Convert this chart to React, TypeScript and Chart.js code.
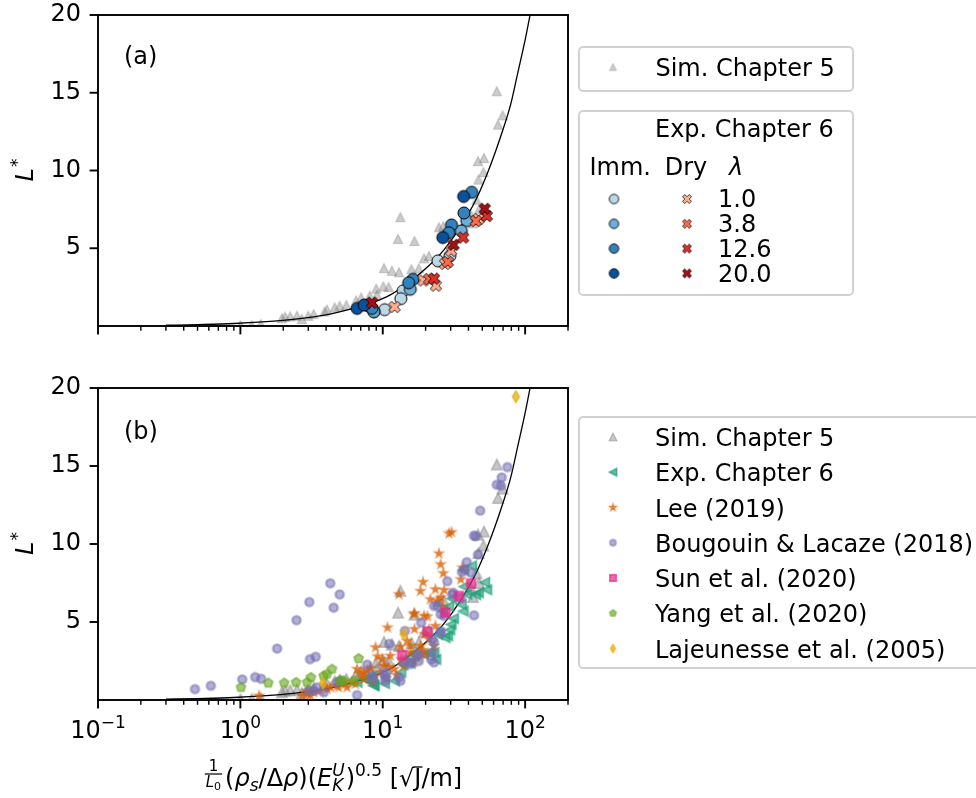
import React, { useEffect, useRef } from 'react';
import { Chart, registerables } from 'chart.js';

Chart.register(...registerables);

const FONT = "'DejaVu Sans', 'Liberation Sans', sans-serif";

// ---------- axis ticks ----------
const xMajorTicks = [0.1, 1, 10, 100];
const xTickExponents = ['\u22121', '0', '1', '2'];
const xMinorTicks = [0.2, 0.3, 0.4, 0.5, 0.6, 0.7, 0.8, 0.9, 2, 3, 4, 5, 6, 7, 8, 9, 20, 30, 40, 50, 60, 70, 80, 90, 200];
const yTicks = [5, 10, 15, 20];

// ---------- data: [x, L*] ----------
type P = [number, number];

const simChapter5: P[] = [
  [63.2, 15.1], [69.5, 13.55], [64.5, 12.95], [51.4, 10.8], [46.7, 10.6], [50.9, 9.9], [47.0, 9.42],
  [45.5, 8.12], [47.4, 7.5], [42.0, 7.1], [43.0, 6.6], [13.3, 7.0], [12.8, 5.6], [16.7, 5.47],
  [24.8, 6.35], [26.6, 6.42], [19.5, 4.35], [21.1, 4.5], [10.2, 3.72], [11.6, 3.55], [13.0, 3.46],
  [15.9, 3.65], [17.9, 3.7], [9.0, 2.4], [10.1, 2.55], [11.0, 2.5], [8.1, 1.95], [9.1, 2.0],
  [7.05, 1.84], [6.5, 1.64], [5.55, 1.35], [4.98, 1.3], [4.6, 1.2], [4.06, 1.05], [3.9, 0.93],
  [3.27, 0.77], [3.0, 0.66], [2.5, 0.66], [2.24, 0.62], [2.06, 0.6], [2.7, 0.45], [1.96, 0.5],
  [1.39, 0.13], [1.2, 0.06], [1.0, 0.05],
];

// Exp. Chapter 6 — immersed (circles), per lambda
const imm_1_0: P[] = [[24.4, 4.19], [29.6, 4.5], [13.9, 2.26], [13.4, 1.76], [10.3, 1.05], [8.7, 0.93]];
const imm_3_8: P[] = [[38.9, 6.78], [35.6, 6.12], [15.6, 2.36], [8.65, 0.92]];
const imm_12_6: P[] = [[42.1, 8.6], [37.2, 7.27], [30.4, 6.5], [29.1, 6.0], [16.3, 3.0], [15.2, 2.78], [7.9, 1.3], [8.4, 1.13]];
const imm_20_0: P[] = [[37.0, 8.33], [26.4, 5.69], [6.6, 1.13], [7.4, 1.35]];
// Exp. Chapter 6 — dry (crosses), per lambda
const dry_1_0: P[] = [[47.0, 6.88], [30.2, 4.84], [27.4, 4.0], [19.3, 2.93], [23.6, 2.6], [12.1, 1.22]];
const dry_3_8: P[] = [[28.6, 4.12], [21.2, 3.02], [45.0, 6.75]];
const dry_12_6: P[] = [[53.8, 7.07], [36.7, 5.69], [22.9, 3.05]];
const dry_20_0: P[] = [[52.0, 7.54], [31.4, 5.22], [8.4, 1.5]];

const lee2019: P[] = [
  [29.2, 10.67], [30.4, 10.75], [24.8, 9.39], [25.5, 8.69], [26.6, 8.12], [36.3, 8.48], [35.3, 7.73],
  [19.2, 7.56], [18.4, 6.98], [23.4, 7.09], [27.0, 7.05], [21.6, 6.45], [25.7, 6.56], [24.1, 6.35], [26.2, 5.96],
  [13.0, 6.77], [16.7, 5.56], [19.5, 5.39], [16.5, 5.5], [20.6, 5.35],
  [16.7, 4.54], [23.4, 4.75], [19.7, 4.22], [10.8, 4.64], [21.1, 3.9],
  [14.8, 3.79], [15.7, 3.47], [18.4, 3.47], [13.3, 3.41], [8.9, 3.37], [22.9, 3.47],
  [9.2, 2.79], [9.9, 2.62], [11.3, 2.83], [15.7, 3.05], [18.4, 3.05],
  [10.2, 2.19], [12.0, 1.98], [14.0, 2.19], [16.5, 2.41], [9.6, 1.77],
  [6.6, 1.98], [6.97, 1.66], [7.8, 1.9], [8.2, 2.05], [7.36, 1.77],
  [7.36, 1.34], [6.08, 1.13], [5.45, 1.02], [6.42, 1.02], [8.5, 1.2], [10.5, 1.4], [12.5, 1.6],
  [4.77, 0.91], [4.28, 0.81], [4.06, 0.7], [3.64, 0.59], [3.27, 0.49], [2.94, 0.38], [2.71, 0.27],
  [4.89, 0.81], [5.61, 0.81], [1.35, 0.27], [2.94, 0.59], [3.1, 0.3],
  [17.5, 2.7], [20.0, 2.9], [13.5, 2.6], [11.0, 2.1], [19.0, 3.2],
];

const bougouin2018: P[] = [
  [0.48, 0.7], [0.62, 0.91], [1.03, 1.32], [1.27, 1.47], [1.4, 1.36], [1.81, 3.3], [2.48, 5.12], [3.05, 6.28],
  [3.08, 2.62], [3.38, 2.77], [4.28, 7.48], [4.98, 6.77], [4.52, 5.92],
  [3.01, 0.59], [3.45, 0.81], [3.85, 0.49], [4.77, 1.13], [5.03, 1.23], [3.27, 0.6],
  [6.6, 0.32], [7.78, 2.27], [8.4, 1.55], [8.55, 1.34], [10.2, 1.66], [10.5, 1.45], [10.6, 1.77], [10.4, 1.23],
  [11.1, 3.6], [13.0, 1.45], [13.3, 1.23], [14.3, 4.43], [14.0, 2.41], [15.5, 2.41], [15.7, 2.3], [17.5, 2.83], [17.9, 2.5],
  [18.6, 4.96], [17.9, 2.94], [22.3, 3.05], [21.9, 2.6], [22.9, 2.41], [22.9, 3.69], [22.3, 3.9], [25.5, 4.33],
  [24.1, 6.03], [22.9, 6.03], [25.5, 4.43], [27.0, 5.39], [25.5, 5.5],
  [28.4, 7.62], [31.2, 6.88], [30.8, 6.77], [35.3, 6.5], [38.9, 8.84], [37.2, 8.37], [36.0, 8.2], [41.7, 8.16],
  [43.7, 10.54], [44.9, 10.5], [46.7, 9.33], [43.7, 5.43], [48.3, 12.14], [63.2, 13.8], [68.5, 14.27], [67.6, 13.74], [75.1, 14.93],
];

const sun2020: P[] = [[13.7, 2.88], [20.6, 4.39], [27.6, 5.6], [34.3, 6.67], [41.7, 7.46]];

const yang2020: P[] = [
  [1.01, 0.81], [1.57, 1.09], [2.03, 1.09], [2.46, 1.13], [2.94, 1.13], [3.13, 1.45], [3.84, 1.55],
  [4.06, 1.66], [4.4, 1.98], [5.03, 1.23], [5.3, 1.23], [6.77, 2.66], [6.25, 1.23],
];

const lajeunesse2005: P[] = [[86.0, 19.44], [14.0, 4.22], [3.81, 1.09]];

// fitted curve
const curveLine: P[] = [
  [0.3, 0.05], [0.5, 0.09], [0.9, 0.16], [2.0, 0.36], [3.8, 0.68], [6.6, 1.2], [8.6, 1.52], [11.3, 2.0],
  [15.7, 2.9], [20.6, 3.8], [26.9, 4.9], [35.3, 6.4], [45.0, 8.1], [55.8, 10.1], [67.4, 12.2], [79.4, 14.3],
  [88.4, 16.2], [100.0, 18.4], [106.7, 19.7], [115.0, 21.2],
];

// ---------- legend text ----------
const lambdaLabels = ['1.0', '3.8', '12.6', '20.0'];
const immColors = ['#bdd7e7', '#6baed6', '#3182bd', '#08519c'];
const dryColors = ['#fcae91', '#fb6a4a', '#de2d26', '#a50f15'];
const legendBLabels = [
  'Sim. Chapter 5', 'Exp. Chapter 6', 'Lee (2019)', 'Bougouin & Lacaze (2018)',
  'Sun et al. (2020)', 'Yang et al. (2020)', 'Lajeunesse et al. (2005)',
];

// ---------- helpers ----------
function makeMarker(shape: string, size: number, fill: string, stroke: string, lw: number): HTMLCanvasElement {
  const pad = Math.ceil(lw) + 2;
  const dim = Math.ceil(size * 1.5) + pad * 2;
  const c = document.createElement('canvas');
  c.width = dim;
  c.height = dim;
  const ctx = c.getContext('2d')!;
  const cx = dim / 2, cy = dim / 2, h = size / 2;
  ctx.beginPath();
  const poly = (pts: number[][]) => {
    pts.forEach(([x, y], i) => (i ? ctx.lineTo(cx + x, cy + y) : ctx.moveTo(cx + x, cy + y)));
    ctx.closePath();
  };
  if (shape === 'circle') ctx.arc(cx, cy, h, 0, Math.PI * 2);
  else if (shape === 'triUp') poly([[0, -h], [-h, h], [h, h]]);
  else if (shape === 'triLeft') poly([[-h, 0], [h, -h], [h, h]]);
  else if (shape === 'square') poly([[-h, -h], [h, -h], [h, h], [-h, h]]);
  else if (shape === 'pentagon') {
    const p: number[][] = [];
    for (let i = 0; i < 5; i++) { const a = -Math.PI / 2 + (i * 2 * Math.PI) / 5; p.push([h * Math.cos(a), h * Math.sin(a)]); }
    poly(p);
  } else if (shape === 'star') {
    const p: number[][] = [];
    for (let i = 0; i < 10; i++) { const r = i % 2 ? h * 0.381966 : h; const a = -Math.PI / 2 + (i * Math.PI) / 5; p.push([r * Math.cos(a), r * Math.sin(a)]); }
    poly(p);
  } else if (shape === 'thinDiamond') {
    const d = h * Math.SQRT2;
    poly([[0, -d], [0.6 * d, 0], [0, d], [-0.6 * d, 0]]);
  } else if (shape === 'xFilled') {
    const v = [[-1, -2], [0, -1], [1, -2], [2, -1], [1, 0], [2, 1], [1, 2], [0, 1], [-1, 2], [-2, 1], [-1, 0], [-2, -1]];
    poly(v.map(([x, y]) => [(x * size) / 4, (y * size) / 4]));
  }
  ctx.fillStyle = fill;
  ctx.fill();
  if (lw > 0) { ctx.lineWidth = lw; ctx.strokeStyle = stroke; ctx.lineJoin = 'miter'; ctx.stroke(); }
  return c;
}

function line(ctx: CanvasRenderingContext2D, x1: number, y1: number, x2: number, y2: number) {
  ctx.beginPath(); ctx.moveTo(x1, y1); ctx.lineTo(x2, y2); ctx.stroke();
}

function putMarker(ctx: CanvasRenderingContext2D, m: HTMLCanvasElement, x: number, y: number) {
  ctx.drawImage(m, x - m.width / 2, y - m.height / 2);
}

function legendBox(ctx: CanvasRenderingContext2D, x: number, y: number, w: number, h: number) {
  ctx.beginPath();
  (ctx as any).roundRect(x, y, w, h, 4);
  ctx.fillStyle = 'rgba(255,255,255,0.85)';
  ctx.fill();
  ctx.strokeStyle = '#d2d2d2';
  ctx.lineWidth = 2;
  ctx.stroke();
}

function text(ctx: CanvasRenderingContext2D, t: string, x: number, y: number, size = 24, italic = false) {
  ctx.font = `${italic ? 'italic ' : ''}${size}px ${FONT}`;
  ctx.fillStyle = '#000';
  ctx.textAlign = 'left';
  ctx.textBaseline = 'alphabetic';
  ctx.fillText(t, x, y);
}

function drawFrame(chart: any, showXLabels: boolean) {
  const ctx: CanvasRenderingContext2D = chart.ctx;
  const a = chart.chartArea;
  const xs = chart.scales.x, ys = chart.scales.y;
  ctx.save();
  ctx.strokeStyle = '#000';
  ctx.lineWidth = 1.9;
  ctx.strokeRect(a.left, a.top, a.right - a.left, a.bottom - a.top);
  xMajorTicks.forEach((v) => { const p = xs.getPixelForValue(v); line(ctx, p, a.bottom, p, a.bottom + 8.4); });
  ctx.lineWidth = 1.4;
  xMinorTicks.forEach((v) => { const p = xs.getPixelForValue(v); line(ctx, p, a.bottom, p, a.bottom + 4.8); });
  ctx.lineWidth = 1.9;
  yTicks.forEach((v) => { const p = ys.getPixelForValue(v); line(ctx, a.left - 8.4, p, a.left, p); });

  // y-axis title L*
  ctx.save();
  ctx.translate(33, (a.top + a.bottom) / 2);
  ctx.rotate(-Math.PI / 2);
  ctx.font = `italic 24px ${FONT}`;
  const wL = ctx.measureText('L').width;
  ctx.font = `17px ${FONT}`;
  const wS = ctx.measureText('*').width;
  const x0 = -(wL + wS) / 2;
  text(ctx, 'L', x0, 0, 24, true);
  text(ctx, '*', x0 + wL + 1, -10, 17);
  ctx.restore();

  if (showXLabels) {
    const base = a.bottom + 38.3;
    xMajorTicks.forEach((v, i) => {
      const p = xs.getPixelForValue(v);
      ctx.font = `24px ${FONT}`;
      const w10 = ctx.measureText('10').width;
      ctx.font = `17px ${FONT}`;
      const we = ctx.measureText(xTickExponents[i]).width;
      const sx = p - (w10 + we) / 2;
      text(ctx, '10', sx, base, 24);
      text(ctx, xTickExponents[i], sx + w10, base - 10, 17);
    });
  }
  ctx.restore();
}

function drawXTitle(ctx: CanvasRenderingContext2D, cx: number, base: number) {
  type Item = { t: string; size: number; it?: boolean; dy?: number; adv?: number; w?: number; custom?: (x: number) => void; over?: boolean };
  const m = (t: string, s: number, it = false) => { ctx.font = `${it ? 'italic ' : ''}${s}px ${FONT}`; return ctx.measureText(t).width; };
  const numW = m('1', 15), dL = m('L', 15, true), d0 = m('0', 11);
  const fracW = Math.max(numW, dL + d0) + 4;
  const wU = m('U', 17, true), wK = m('K', 17, true);
  const items: Item[] = [
    {
      t: '', size: 0, adv: fracW + 2,
      custom: (x) => {
        text(ctx, '1', x + (fracW - numW) / 2, base - 15, 15);
        ctx.lineWidth = 1.2; ctx.strokeStyle = '#000';
        line(ctx, x + 1, base - 12, x + fracW - 1, base - 12);
        const dx = x + (fracW - dL - d0) / 2;
        text(ctx, 'L', dx, base + 1, 15, true);
        text(ctx, '0', dx + dL, base + 4, 11);
      },
    },
    { t: '(', size: 24 }, { t: 'ρ', size: 24, it: true }, { t: 's', size: 17, it: true, dy: 5 },
    { t: '/', size: 24 }, { t: 'Δ', size: 24 }, { t: 'ρ', size: 24, it: true }, { t: ')(', size: 24 },
    { t: 'E', size: 24, it: true }, { t: 'U', size: 17, it: true, dy: -10, adv: 0 },
    { t: 'K', size: 17, it: true, dy: 5, adv: Math.max(wU, wK) + 1 },
    { t: ')', size: 24 }, { t: '0.5', size: 17, dy: -10 }, { t: ' [', size: 24 }, { t: '√', size: 24 },
    { t: 'J', size: 24, over: true }, { t: '/m]', size: 24 },
  ];
  let total = 0;
  items.forEach((it) => { if (it.t) it.w = m(it.t, it.size, !!it.it); total += it.adv ?? it.w ?? 0; });
  let x = cx - total / 2;
  items.forEach((it) => {
    if (it.custom) it.custom(x);
    else {
      text(ctx, it.t, x, base + (it.dy || 0), it.size, !!it.it);
      if (it.over) { ctx.lineWidth = 1.3; line(ctx, x - 1, base - 19, x + (it.w || 0) + 1, base - 19); }
    }
    x += it.adv ?? it.w ?? 0;
  });
}

function pts(arr: P[]) {
  return arr.map(([x, y]) => ({ x, y }));
}

function makeChart(canvas: HTMLCanvasElement, datasets: any[], padTop: number, xHeight: number, after: (c: any) => void) {
  const n = datasets.length;
  datasets.forEach((d, i) => { d.order = n - i; });
  return new Chart(canvas, {
    type: 'scatter',
    data: { datasets },
    options: {
      responsive: false,
      animation: false,
      events: [],
      layout: { padding: { left: 0, right: 408, top: padTop, bottom: 0 } },
      plugins: { legend: { display: false }, tooltip: { enabled: false } },
      scales: {
        x: {
          type: 'logarithmic', min: 0.1, max: 200,
          grid: { display: false, drawTicks: false }, border: { display: false },
          ticks: { display: false },
          afterFit: (s: any) => { s.height = xHeight; s.paddingLeft = 0; s.paddingRight = 0; s.paddingTop = 0; s.paddingBottom = 0; },
        },
        y: {
          type: 'linear', min: 0, max: 20,
          grid: { display: false, drawTicks: false }, border: { display: false },
          ticks: {
            stepSize: 5, padding: 17, color: '#000', font: { family: FONT, size: 24 },
            callback: (v: any) => (v === 0 ? '' : String(v)),
          },
          afterFit: (s: any) => { s.width = 98; s.paddingTop = 0; s.paddingBottom = 0; s.paddingLeft = 0; s.paddingRight = 0; },
        },
      },
    } as any,
    plugins: [{ id: 'decor', afterDraw: after }],
  });
}

export default function App() {
  const refA = useRef<HTMLCanvasElement>(null);
  const refB = useRef<HTMLCanvasElement>(null);

  useEffect(() => {
    const grayA = makeMarker('triUp', 9, 'rgba(128,128,128,0.4)', 'rgba(128,128,128,0.4)', 1.2);
    const grayB = makeMarker('triUp', 10.5, 'rgba(128,128,128,0.45)', 'rgba(128,128,128,0.45)', 1.6);
    const immM = immColors.map((c) => makeMarker('circle', 12, c, '#000', 1));
    const dryM = dryColors.map((c) => makeMarker('xFilled', 11.5, c, '#000', 0.8));
    const tealM = makeMarker('triLeft', 9.5, 'rgba(27,158,119,0.6)', 'rgba(27,158,119,0.6)', 1.8);
    const starM = makeMarker('star', 8, 'rgba(217,95,2,0.6)', 'rgba(217,95,2,0.6)', 1.8);
    const circM = makeMarker('circle', 8.2, 'rgba(117,112,179,0.55)', 'rgba(117,112,179,0.55)', 2.4);
    const sqM = makeMarker('square', 8.5, 'rgba(231,41,138,0.7)', 'rgba(231,41,138,0.7)', 1.8);
    const pentM = makeMarker('pentagon', 9.5, 'rgba(102,166,30,0.6)', 'rgba(102,166,30,0.6)', 1.8);
    const diaM = makeMarker('thinDiamond', 8, 'rgba(230,171,2,0.7)', 'rgba(230,171,2,0.7)', 1.6);

    const scatter = (data: P[], marker: HTMLCanvasElement) => ({
      data: pts(data), pointStyle: marker, pointRadius: 5, pointHoverRadius: 5, showLine: false,
    });
    const curve = () => ({
      data: pts(curveLine), showLine: true, pointRadius: 0, borderColor: '#000', borderWidth: 1.3,
      cubicInterpolationMode: 'monotone', fill: false,
    });

    const immSets = [imm_1_0, imm_3_8, imm_12_6, imm_20_0];
    const drySets = [dry_1_0, dry_3_8, dry_12_6, dry_20_0];

    // ---------- panel (a) ----------
    const dsA: any[] = [
      scatter(simChapter5, grayA),
      curve(),
      ...immSets.map((d, i) => scatter(d, immM[i])),
      ...drySets.map((d, i) => scatter(d, dryM[i])),
    ];
    const legImm = immColors.map((c) => makeMarker('circle', 9.5, c, '#000', 0.9));
    const legDry = dryColors.map((c) => makeMarker('xFilled', 9, c, '#000', 0.7));
    const legGrayA = makeMarker('triUp', 7, 'rgba(128,128,128,0.4)', 'rgba(128,128,128,0.4)', 1);
    const chartA = makeChart(refA.current!, dsA, 15, 34, (chart: any) => {
      const ctx: CanvasRenderingContext2D = chart.ctx;
      drawFrame(chart, false);
      ctx.save();
      text(ctx, '(a)', 124, 63.6);
      legendBox(ctx, 579, 47, 274, 44);
      putMarker(ctx, legGrayA, 613, 67);
      text(ctx, 'Sim. Chapter 5', 655.4, 76);
      legendBox(ctx, 579, 111, 274, 184);
      text(ctx, 'Exp. Chapter 6', 655, 136.7);
      text(ctx, 'Imm.', 589.5, 175);
      text(ctx, 'Dry', 664.7, 175);
      text(ctx, 'λ', 729, 175, 24, true);
      lambdaLabels.forEach((lab, i) => {
        const cy = 199 + i * 24.8;
        putMarker(ctx, legImm[i], 614, cy);
        putMarker(ctx, legDry[i], 687, cy);
        text(ctx, lab, 718, cy + 8.2);
      });
      ctx.restore();
    });

    // ---------- panel (b) ----------
    const expAll: P[] = [...imm_1_0, ...imm_3_8, ...imm_12_6, ...imm_20_0, ...dry_1_0, ...dry_3_8, ...dry_12_6, ...dry_20_0];
    const dsB: any[] = [
      scatter(simChapter5, grayB),
      curve(),
      scatter(expAll, tealM),
      scatter(lee2019, starM),
      scatter(bougouin2018, circM),
      scatter(sun2020, sqM),
      scatter(yang2020, pentM),
      scatter(lajeunesse2005, diaM),
    ];
    const legB = [
      makeMarker('triUp', 8, 'rgba(128,128,128,0.45)', 'rgba(128,128,128,0.45)', 1.2),
      makeMarker('triLeft', 7.5, 'rgba(27,158,119,0.7)', 'rgba(27,158,119,0.7)', 1.4),
      makeMarker('star', 7, 'rgba(217,95,2,0.65)', 'rgba(217,95,2,0.65)', 1.4),
      makeMarker('circle', 6, 'rgba(117,112,179,0.55)', 'rgba(117,112,179,0.55)', 1.8),
      makeMarker('square', 6.5, 'rgba(231,41,138,0.7)', 'rgba(231,41,138,0.7)', 1.4),
      makeMarker('pentagon', 7, 'rgba(102,166,30,0.65)', 'rgba(102,166,30,0.65)', 1.4),
      makeMarker('thinDiamond', 6, 'rgba(230,171,2,0.75)', 'rgba(230,171,2,0.75)', 1.2),
    ];
    const chartB = makeChart(refB.current!, dsB, 28, 98, (chart: any) => {
      const ctx: CanvasRenderingContext2D = chart.ctx;
      drawFrame(chart, true);
      ctx.save();
      text(ctx, '(b)', 124, 78.6);
      legendBox(ctx, 579, 57, 430, 251);
      legendBLabels.forEach((lab, i) => {
        const cy = 77 + i * 35.25;
        putMarker(ctx, legB[i], 613, cy);
        text(ctx, lab, 655, cy + 9);
      });
      drawXTitle(ctx, 333, 426);
      ctx.restore();
    });

    return () => { chartA.destroy(); chartB.destroy(); };
  }, []);

  return (
    <div style={{ position: 'absolute', left: 0, top: 0, width: 976, height: 798, background: '#fff' }}>
      <canvas ref={refA} width={976} height={360} style={{ position: 'absolute', left: 0, top: 0 }} />
      <canvas ref={refB} width={976} height={438} style={{ position: 'absolute', left: 0, top: 360 }} />
    </div>
  );
}
